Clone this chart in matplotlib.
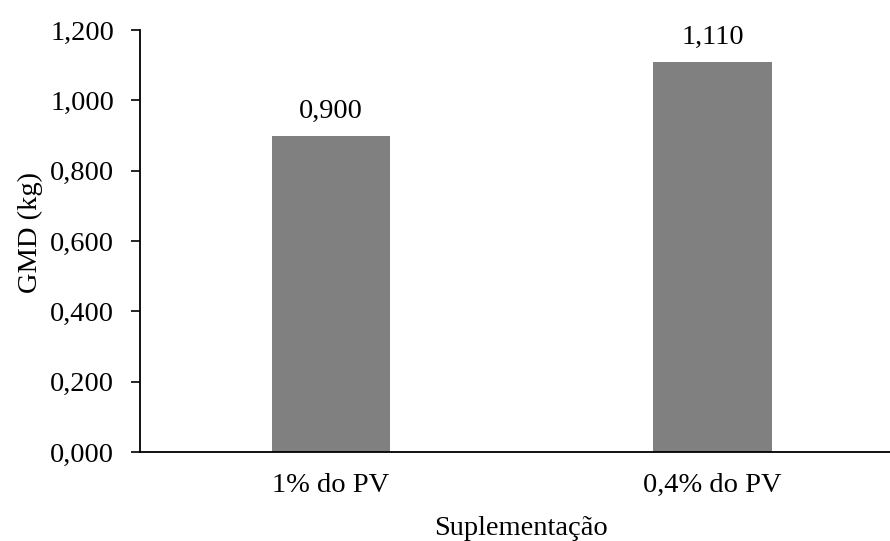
import matplotlib
matplotlib.use("Agg")
import matplotlib.pyplot as plt
from matplotlib.ticker import FuncFormatter

categories = ['1% do PV', '0,4% do PV']
gmd = [0.900, 1.110]
yticks = [0.0, 0.2, 0.4, 0.6, 0.8, 1.0, 1.2]

plt.rcParams['font.family'] = ['Liberation Serif', 'DejaVu Serif']

def br(v, pos=None):
    # comma as decimal separator, three decimals
    return f"{v:.3f}".replace('.', ',')

fig = plt.figure(figsize=(8.9, 5.41), dpi=100)
ax = fig.add_axes([0.1573, 0.1645, 0.8427, 0.78])

x = list(range(len(categories)))
bars = ax.bar(x, gmd, width=0.31, color='#808080')
for b, v in zip(bars, gmd):
    ax.annotate(br(v), (b.get_x() + b.get_width() / 2, v),
                xytext=(0, 13), textcoords='offset points',
                ha='center', va='baseline', fontsize=20.5)

ax.set_xlim(-0.5, 1.465)
ax.set_ylim(0, 1.2)
ax.set_yticks(yticks)
ax.yaxis.set_major_formatter(FuncFormatter(br))
ax.set_xticks(x)
ax.set_xticklabels(categories)
ax.tick_params(axis='x', length=0, labelsize=20.5, pad=15)
ax.tick_params(axis='y', length=6.5, width=1.2, labelsize=20.5, pad=12)

for s in ['top', 'right']:
    ax.spines[s].set_visible(False)
ax.spines['left'].set_linewidth(1.3)
ax.spines['bottom'].set_linewidth(1.3)

ax.set_ylabel('GMD (kg)', fontsize=20.5, va='baseline')
ax.yaxis.set_label_coords(-0.137, 0.52)
ax.set_xlabel('Suplementação', fontsize=20.5, va='baseline')
ax.xaxis.set_label_coords(0.508, -0.197)

fig.savefig('out.png', dpi=100)
